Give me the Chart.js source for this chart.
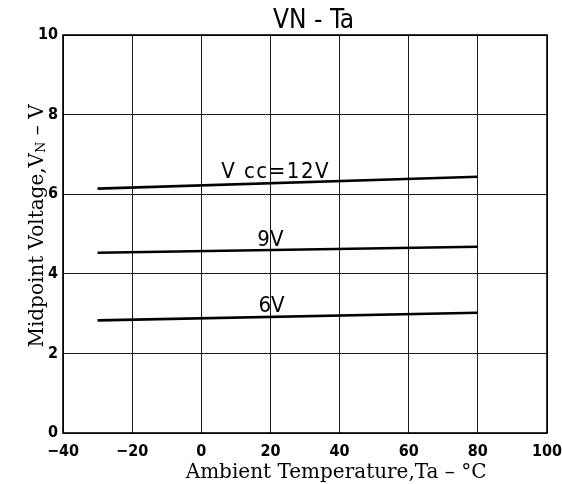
<!DOCTYPE html>
<html>
<head>
<meta charset="utf-8">
<script src="https://cdn.jsdelivr.net/npm/chart.js@4/dist/chart.umd.min.js"></script>
<style>
  html, body { margin: 0; padding: 0; background: #fff; }
  #wrap { width: 562px; height: 484px; }
</style>
</head>
<body>
<div id="wrap"><canvas id="chart" width="562" height="484"></canvas></div>
<script>
// Ambient temperature end points (°C)
const temps = [-30, 80];

// Midpoint voltage VN (V) for each supply voltage
const vn12 = [6.14, 6.44];
const vn9 = [4.53, 4.68];
const vn6 = [2.83, 3.02];

const seriesNames = ['Vcc=12V', '9V', '6V'];

const xTicks = [-40, -20, 0, 20, 40, 60, 80, 100];
const yTicks = [0, 2, 4, 6, 8, 10];

const sansC = '"DejaVu Sans Condensed", "DejaVu Sans", sans-serif';
const serif = '"DejaVu Serif", "Liberation Serif", serif';
const tickFont = { family: sansC, size: 16, weight: 'bold' };

function toPoints(xs, ys) {
  return xs.map((x, i) => ({ x: x, y: ys[i] }));
}

// labels written beside each curve, placed in data coordinates
const curveLabels = [
  { text: 'V cc=12V', x: 21.5, y: 6.41, spacing: 1.5 },
  { text: '9V', x: 20, y: 4.7, spacing: 0 },
  { text: '6V', x: 20.3, y: 3.04, spacing: 0 }
];

const annotate = {
  id: 'annotate',
  afterDraw(chart) {
    const ctx = chart.ctx;
    const xs = chart.scales.x, ys = chart.scales.y;
    const area = chart.chartArea;

    // frame
    ctx.save();
    ctx.strokeStyle = '#000';
    ctx.lineWidth = 1.6;
    ctx.strokeRect(area.left, area.top, area.right - area.left, area.bottom - area.top);
    ctx.restore();

    ctx.save();
    ctx.fillStyle = '#000';
    ctx.textBaseline = 'alphabetic';
    ctx.textAlign = 'center';

    // curve labels
    ctx.font = '22px ' + sansC;
    curveLabels.forEach(l => {
      ctx.letterSpacing = l.spacing + 'px';
      ctx.fillText(l.text, xs.getPixelForValue(l.x), ys.getPixelForValue(l.y));
    });
    ctx.letterSpacing = '0px';

    // chart title above the frame
    ctx.font = '26px ' + sansC;
    ctx.fillText('VN - Ta', xs.getPixelForValue(32.5), 28);

    // x axis title
    ctx.font = '20px ' + serif;
    ctx.fillText('Ambient Temperature,Ta \u2013 \u00B0C', xs.getPixelForValue(39), 478);

    // y axis title with subscript N
    ctx.translate(43, 226);
    ctx.rotate(-Math.PI / 2);
    ctx.textAlign = 'left';
    const main = 'Midpoint Voltage,V';
    const tail = ' \u2013 V';
    ctx.font = '20px ' + serif;
    const w1 = ctx.measureText(main).width;
    const w3 = ctx.measureText(tail).width;
    ctx.font = '13px ' + serif;
    const w2 = ctx.measureText('N').width;
    const x0 = -(w1 + w2 + w3) / 2;
    ctx.font = '20px ' + serif;
    ctx.fillText(main, x0, 0);
    ctx.font = '13px ' + serif;
    ctx.fillText('N', x0 + w1, 2);
    ctx.font = '20px ' + serif;
    ctx.fillText(tail, x0 + w1 + w2, 0);
    ctx.restore();
  }
};

const lineStyle = {
  borderColor: '#000',
  backgroundColor: '#000',
  borderWidth: 2.6,
  pointRadius: 0,
  fill: false,
  tension: 0
};

new Chart(document.getElementById('chart'), {
  type: 'line',
  data: {
    datasets: [
      Object.assign({ label: seriesNames[0], data: toPoints(temps, vn12) }, lineStyle),
      Object.assign({ label: seriesNames[1], data: toPoints(temps, vn9) }, lineStyle),
      Object.assign({ label: seriesNames[2], data: toPoints(temps, vn6) }, lineStyle)
    ]
  },
  options: {
    responsive: false,
    animation: false,
    layout: { padding: { top: 35, right: 0, left: 0, bottom: 0 } },
    plugins: {
      legend: { display: false },
      tooltip: { enabled: false }
    },
    scales: {
      x: {
        type: 'linear',
        min: -40,
        max: 100,
        afterBuildTicks: s => { s.ticks = xTicks.map(v => ({ value: v })); },
        afterFit: s => { s.height = 51; s.paddingLeft = 0; s.paddingRight = 15; },
        ticks: {
          color: '#000',
          font: tickFont,
          padding: 9,
          maxRotation: 0,
          callback: v => (v < 0 ? '\u2212' + Math.abs(v) : String(v))
        },
        grid: { color: '#1a1a1a', lineWidth: 1, drawTicks: false },
        border: { display: false }
      },
      y: {
        type: 'linear',
        min: 0,
        max: 10,
        afterBuildTicks: s => { s.ticks = yTicks.map(v => ({ value: v })); },
        afterFit: s => { s.width = 63; s.paddingTop = 0; s.paddingBottom = 0; },
        ticks: {
          color: '#000',
          font: tickFont,
          padding: 5
        },
        grid: { color: '#1a1a1a', lineWidth: 1, drawTicks: false },
        border: { display: false }
      }
    }
  },
  plugins: [annotate]
});
</script>
</body>
</html>
